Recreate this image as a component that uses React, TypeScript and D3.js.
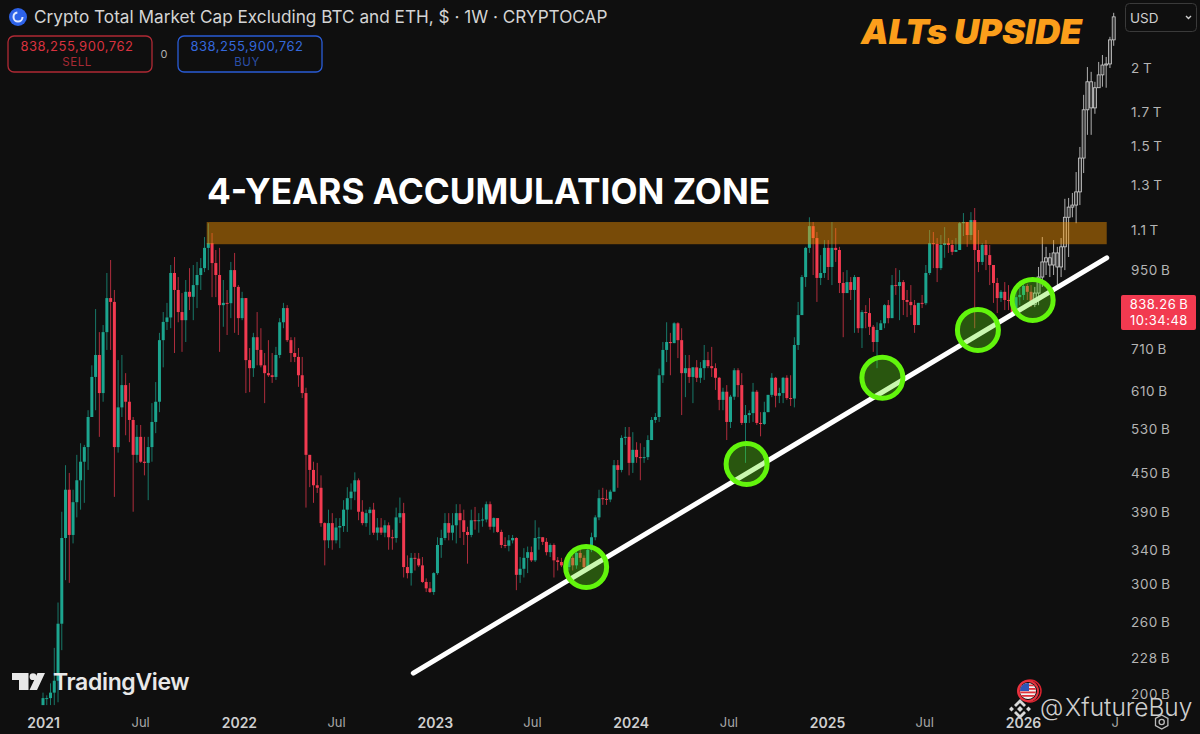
import * as d3 from "d3";
import { useEffect, useRef } from "react";

// weekly candles as [high, low, close] in billions, open is the previous close
const firstOpen = 192;
const candles2021 = [
	[201,192,197],[199,192,197],[208,192,201],[237,192,210],[280,194,259],[391,235,355],[464,304,424],[451,301,359],
	[424,348,405],[482,383,439],[503,394,470],[500,404,496],[568,456,554],[670,568,642],[824,568,696],[757,515,605],
	[777,586,757],[941,709,858],[987,709,846],[884,413,496],[683,486,574],[696,554,623],[651,518,586],[628,505,548],
	[554,391,482],[538,468,515],[538,468,470],[515,447,468],[515,408,496],[583,470,544],[630,522,586],[755,564,735],
	[815,665,786],[843,763,799],[969,768,941],[998,701,884],[927,785,815],[874,704,791],[917,730,878],[958,821,862],
	[969,791,900],[980,827,934],[994,884,958],[1074,944,1032],[1130,951,1050],[1090,861,976],[1024,861,934],[1032,704,836],
	[917,772,843],[884,749,842],[980,797,951],[1013,755,894],
];
const candles2022 = [
	[900,749,797],[878,791,858],[858,605,683],[714,607,663],[755,642,743],[815,670,709],[768,665,670],[701,583,651],
	[735,642,646],[701,628,642],[717,635,696],[797,688,785],[843,768,827],[836,730,735],[743,678,701],[743,678,691],
	[714,619,646],[691,594,605],[617,397,482],[482,428,456],[470,404,431],[468,419,427],[447,370,375],[376,321,352],
	[394,342,375],[389,340,352],[382,348,369],[382,342,371],[408,363,394],[428,363,411],[434,394,421],[452,408,439],
	[442,379,391],[408,372,375],[394,370,389],[398,359,394],[404,359,362],[382,352,369],[382,359,362],[379,356,372],
	[376,340,356],[366,340,355],[397,349,383],[412,375,389],[404,307,319],[333,306,312],[336,298,330],[336,315,329],
	[336,319,321],[331,301,302],[306,291,295],[302,290,291],
];
const candles2023 = [
	[313,288,312],[356,310,346],[366,330,355],[389,352,375],[389,352,362],[389,352,372],[402,348,389],[402,355,379],
	[394,346,363],[370,323,359],[394,356,379],[398,366,378],[389,362,379],[397,370,380],[406,376,402],[406,366,370],
	[383,362,382],[376,362,363],[366,342,346],[356,342,345],[359,338,352],[359,348,355],[356,293,310],[331,301,317],
	[342,307,330],[344,312,337],[344,325,327],[379,325,355],[369,340,356],[356,346,350],[355,333,337],[348,331,346],
	[348,307,327],[331,315,325],[330,319,321],[327,313,319],[337,315,330],[333,315,321],[342,317,336],[340,325,330],
	[333,313,319],[346,319,340],[362,337,356],[386,352,383],[424,379,411],[427,401,410],[424,401,409],[424,405,421],
	[473,421,464],[473,427,456],[518,452,513],[534,500,515],
];
const candles2024 = [
	[534,447,468],[524,451,491],[505,468,478],[503,439,477],[496,468,478],[518,473,509],[554,522,548],[562,542,554],
	[662,544,646],[730,628,709],[785,678,730],[755,646,727],[785,727,782],[785,688,735],[768,558,651],[696,596,663],
	[696,628,642],[666,583,665],[683,630,640],[678,628,663],[722,635,683],[704,663,668],[717,642,663],[675,612,640],
	[642,568,590],[617,568,608],[623,509,544],[601,532,597],[663,590,658],[663,596,623],[651,538,542],[579,468,558],
	[568,542,562],[628,544,608],[612,538,542],[564,516,540],[586,538,564],[601,564,601],[651,596,640],[642,574,599],
	[617,583,605],[642,583,640],[646,590,594],[646,577,593],[743,574,722],[846,709,806],[934,806,927],[1036,894,1032],
	[1155,1013,1118],[1135,934,1070],[1094,846,924],[1005,900,941],
];
const candles2025 = [
	[1062,924,1032],[1062,917,962],[1135,900,1032],[1110,980,1024],[1036,874,907],[944,743,874],[951,874,910],[927,852,884],
	[934,755,927],[927,755,768],[821,714,815],[836,768,812],[858,749,772],[777,704,730],[785,663,763],[791,763,782],
	[839,768,836],[852,782,797],[934,797,900],[958,868,897],[951,791,910],[917,806,852],[884,800,846],[900,806,836],
	[852,755,777],[843,777,843],[868,827,842],[969,836,941],[1102,934,1050],[1094,958,1047],[1070,910,958],[1082,951,1043],
	[1114,995,1050],[1070,1013,1043],[1062,1005,1017],[1070,1017,1024],[1135,1050,1130],[1173,1078,1135],[1135,1036,1082],[1177,1062,1143],
	[1195,768,1024],[1102,944,980],[1050,969,1043],[1062,951,1005],[1043,900,969],[969,843,907],[924,812,858],[884,846,878],
	[910,821,852],[900,821,849],[878,812,815],[884,821,861],
];
const candles2026 = [[890,836,868],[904,852,897],[904,852,878],[900,830,838.26]];
// the drawn "upside" path in white
const projected = [
	[894,830,874],[962,836,927],[1074,894,980],[1036,934,995],[1013,927,969],[1062,934,1013],[1036,900,962],[1070,927,1036],
	[1236,951,1155],[1240,998,1199],[1263,1155,1208],[1364,1130,1268],[1496,1208,1436],[1812,1359,1715],[2007,1564,1901],[1972,1564,1727],
	[1901,1690,1860],[2045,1860,1950],[2098,1867,2022],[2083,1860,2030],[2243,2000,2218],[2450,2170,2414],
];
const firstWeek = "2021-01-01";

const priceTicks = [2000, 1700, 1500, 1300, 1100, 950, 710, 610, 530, 450, 390, 340, 300, 260, 228, 200];
const timeTicks = ["2021-01-01", "2021-07-01", "2022-01-01", "2022-07-01", "2023-01-01", "2023-07-01", "2024-01-01", "2024-07-01", "2025-01-01", "2025-07-01", "2026-01-01", "2026-07-01"];

const zoneDates = ["2021-11-02", "2026-06-06"];
const zonePrices = [1135, 1046];
const trendDates = ["2022-11-22", "2026-06-06"];
const trendPrices = [216, 995];
const touchDates = ["2023-10-10", "2024-08-04", "2025-04-14", "2025-10-09", "2026-01-19"];
const touchPrices = [319, 466, 640, 763, 852];

const FONT = "Inter, 'Noto Sans', sans-serif";
const UP = "#1ca58f";
const DOWN = "#f23a50";
const DAY = 86400000;

export default function App() {
	const svgRef = useRef<SVGSVGElement>(null);

	useEffect(() => {
		const svg = d3.select(svgRef.current);
		if (!svg.node()) return;
		svg.selectAll("*").remove();

		const x = d3.scaleUtc().domain([new Date("2021-01-01"), new Date("2026-01-01")]).range([43, 1023]);
		const y = d3.scaleLog().domain([2000, 200]).range([68, 694]);
		const weekX = (i: number) => x(new Date(+new Date(firstWeek) + i * 7 * DAY));

		const defs = svg.append("defs");
		defs.append("clipPath").attr("id", "pane").append("rect").attr("width", 1119).attr("height", 734);
		defs.append("clipPath").attr("id", "flag").append("circle").attr("cx", 1028).attr("cy", 691).attr("r", 8);

		svg.append("rect").attr("width", 1200).attr("height", 734).attr("fill", "#0f0f0f");

		const pane = svg.append("g").attr("clip-path", "url(#pane)");

		// real candles
		const real = [...candles2021, ...candles2022, ...candles2023, ...candles2024, ...candles2025, ...candles2026];
		let prev = firstOpen;
		real.forEach(([high, low, close], i) => {
			const open = prev;
			prev = close;
			const col = close >= open ? UP : DOWN;
			const cx = weekX(i);
			pane.append("line").attr("x1", cx).attr("x2", cx).attr("y1", y(high)).attr("y2", y(low))
				.attr("stroke", col).attr("stroke-width", 1).attr("opacity", 0.7);
			const top = y(Math.max(open, close));
			const h = Math.max(1, y(Math.min(open, close)) - top);
			pane.append("rect").attr("x", cx - 1.5).attr("y", top).attr("width", 3).attr("height", h).attr("fill", col);
		});

		// projected candles
		projected.forEach(([high, low, close], i) => {
			const open = prev;
			prev = close;
			const cx = weekX(real.length + i);
			pane.append("line").attr("x1", cx).attr("x2", cx).attr("y1", y(high)).attr("y2", y(low))
				.attr("stroke", "#b0b0b0").attr("stroke-width", 1);
			const top = y(Math.max(open, close));
			const h = Math.max(1, y(Math.min(open, close)) - top);
			pane.append("rect").attr("x", cx - 1.5).attr("y", top).attr("width", 3).attr("height", h)
				.attr("fill", "#3a3a3a").attr("stroke", "#d0d0d0").attr("stroke-width", 0.8);
		});

		// accumulation zone
		svg.append("rect")
			.attr("x", x(new Date(zoneDates[0])))
			.attr("y", y(zonePrices[0]))
			.attr("width", x(new Date(zoneDates[1])) - x(new Date(zoneDates[0])))
			.attr("height", y(zonePrices[1]) - y(zonePrices[0]))
			.attr("fill", "#ff9800")
			.attr("opacity", 0.44);

		// rising trend line
		const trend = d3.line<number>().x((_, i) => x(new Date(trendDates[i]))).y((p) => y(p));
		svg.append("path")
			.attr("d", trend(trendPrices))
			.attr("fill", "none")
			.attr("stroke", "#ffffff")
			.attr("stroke-width", 5)
			.attr("stroke-linecap", "round");

		// touch points
		touchDates.forEach((d, i) => {
			svg.append("circle")
				.attr("cx", x(new Date(d)))
				.attr("cy", y(touchPrices[i]))
				.attr("r", 20.5)
				.attr("fill", "#5ee80f")
				.attr("fill-opacity", 0.33);
			svg.append("circle")
				.attr("cx", x(new Date(d)))
				.attr("cy", y(touchPrices[i]))
				.attr("r", 20.5)
				.attr("fill", "none")
				.attr("stroke", "#62f50c")
				.attr("stroke-width", 5);
		});

		// price axis
		const yAxis = d3.axisRight(y)
			.tickValues(priceTicks)
			.tickSize(0)
			.tickPadding(0)
			.tickFormat((v) => (+v >= 1000 ? `${+v / 1000}\u2009T` : `${v}\u2009B`));
		const yg = svg.append("g").attr("transform", "translate(1131,0)").call(yAxis);
		yg.select(".domain").remove();
		yg.selectAll("text").attr("fill", "#b4b4b4").style("font-family", FONT).style("font-size", "13.5px").style("letter-spacing", "0.6px");

		// time axis
		const xAxis = d3.axisBottom(x)
			.tickValues(timeTicks.map((d) => new Date(d)))
			.tickSize(0)
			.tickPadding(0)
			.tickFormat((d) => ((d as Date).getUTCMonth() === 0 ? String((d as Date).getUTCFullYear()) : "Jul"));
		const xg = pane.append("g").attr("transform", "translate(0,718)").call(xAxis);
		xg.select(".domain").remove();
		xg.selectAll("text")
			.attr("fill", (d) => ((d as Date).getUTCMonth() === 0 ? "#cfcfcf" : "#a8a8a8"))
			.style("font-family", FONT)
			.style("font-size", (d) => ((d as Date).getUTCMonth() === 0 ? "14px" : "13px"))
			.style("font-weight", (d) => ((d as Date).getUTCMonth() === 0 ? "600" : "400"));

		// header
		svg.append("circle").attr("cx", 18).attr("cy", 17).attr("r", 9).attr("fill", "#2d62e8");
		svg.append("circle").attr("cx", 18).attr("cy", 17).attr("r", 4.5).attr("fill", "none").attr("stroke", "#dfe8ff").attr("stroke-width", 2).attr("stroke-dasharray", "20 8");
		svg.append("text").attr("x", 34).attr("y", 23).attr("fill", "#d4d4d4")
			.style("font-family", FONT).style("font-size", "17.2px")
			.text("Crypto Total Market Cap Excluding BTC and ETH, $ · 1W · CRYPTOCAP");

		const box = (bx: number, stroke: string, fg: string, fg2: string, label: string) => {
			svg.append("rect").attr("x", bx).attr("y", 36).attr("width", 144).attr("height", 36).attr("rx", 6)
				.attr("fill", "none").attr("stroke", stroke).attr("stroke-width", 1.3);
			svg.append("text").attr("x", bx + 69).attr("y", 51).attr("text-anchor", "middle").attr("fill", fg)
				.style("font-family", FONT).style("font-size", "13px").style("letter-spacing", "0.5px").text("838,255,900,762");
			svg.append("text").attr("x", bx + 69).attr("y", 66).attr("text-anchor", "middle").attr("fill", fg2)
				.style("font-family", FONT).style("font-size", "11.5px").style("letter-spacing", "0.5px").text(label);
		};
		box(8, "#b02a35", "#d8323f", "#a82a35", "SELL");
		box(178, "#2a5cd6", "#3468dc", "#2c50a8", "BUY");
		svg.append("text").attr("x", 164).attr("y", 58).attr("text-anchor", "middle").attr("fill", "#b0b0b0")
			.style("font-family", FONT).style("font-size", "11px").text("0");

		// currency button
		svg.append("rect").attr("x", 1125.5).attr("y", 3.5).attr("width", 71).attr("height", 28).attr("rx", 4)
			.attr("fill", "none").attr("stroke", "#3a3a3a");
		svg.append("text").attr("x", 1130).attr("y", 23).attr("fill", "#cfcfcf")
			.style("font-family", FONT).style("font-size", "13.5px").text("USD");
		svg.append("path").attr("d", "M1186 16l2.5 2.5 2.5-2.5").attr("fill", "none").attr("stroke", "#cfcfcf").attr("stroke-width", 1.4);

		// live price tag
		svg.append("rect").attr("x", 1121).attr("y", 295).attr("width", 75).attr("height", 35).attr("rx", 2).attr("fill", "#f23a50");
		svg.append("text").attr("x", 1159).attr("y", 309).attr("text-anchor", "middle").attr("fill", "#ffffff")
			.style("font-family", FONT).style("font-size", "13px").style("letter-spacing", "0.5px").text("838.26\u2009B");
		svg.append("text").attr("x", 1159).attr("y", 325).attr("text-anchor", "middle").attr("fill", "#ffffff")
			.style("font-family", FONT).style("font-size", "13px").style("letter-spacing", "0.5px").text("10:34:48");

		// annotations
		svg.append("text").attr("x", 861).attr("y", 44).attr("fill", "#fb9e1b")
			.style("font-family", FONT).style("font-size", "34.8px").style("font-weight", "900").style("font-style", "italic")
			.text("ALTs UPSIDE");
		svg.append("text").attr("x", 207).attr("y", 204).attr("fill", "#ffffff")
			.style("font-family", FONT).style("font-size", "35.2px").style("font-weight", "700")
			.text("4-YEARS ACCUMULATION ZONE");

		// TradingView mark
		svg.append("path").attr("d", "M12 673H28.5V690H19V680H12Z M37.5 673H45L37 690H29.5Z").attr("fill", "#e8e8e8");
		svg.append("circle").attr("cx", 33).attr("cy", 676.7).attr("r", 3.4).attr("fill", "#e8e8e8");
		svg.append("text").attr("x", 53).attr("y", 690).attr("fill", "#e8e8e8")
			.style("font-family", FONT).style("font-size", "23px").style("font-weight", "600").style("letter-spacing", "-0.35px")
			.text("TradingView");

		// watermark, flag and exchange mark
		svg.append("circle").attr("cx", 1030).attr("cy", 691).attr("r", 11).attr("fill", "none").attr("stroke", "#d8232f").attr("stroke-width", 1.5);
		svg.append("circle").attr("cx", 1028).attr("cy", 691).attr("r", 10).attr("fill", "none").attr("stroke", "#e8323f").attr("stroke-width", 2);
		const flag = svg.append("g").attr("clip-path", "url(#flag)");
		flag.append("rect").attr("x", 1020).attr("y", 683).attr("width", 16).attr("height", 16).attr("fill", "#f2f2f2");
		[684.5, 688, 691.5, 695].forEach((sy) => {
			flag.append("rect").attr("x", 1020).attr("y", sy).attr("width", 16).attr("height", 1.8).attr("fill", "#e0323c");
		});
		flag.append("rect").attr("x", 1020).attr("y", 683).attr("width", 9).attr("height", 8).attr("fill", "#2c55b8");
		svg.append("path")
			.attr("d", "M1020 699l6 6-2 2-4-4-4 4-2-2z M1020 719l6-6-2-2-4 4-4-4-2 2z M1020 706l3 3-3 3-3-3z M1011.5 706.5l2.5 2.5-2.5 2.5-2.5-2.5z M1028.5 706.5l2.5 2.5-2.5 2.5-2.5-2.5z")
			.attr("fill", "#d8d8d8");
		svg.append("text").attr("x", 1040).attr("y", 716).attr("fill", "#cfcfcf")
			.style("font-family", FONT).style("font-size", "24px").style("font-weight", "300")
			.text("@");
		svg.append("text").attr("x", 1065).attr("y", 716).attr("fill", "#cfcfcf")
			.style("font-family", FONT).style("font-size", "24.5px").style("font-weight", "300")
			.text("XfutureBuy");
		svg.append("path").attr("d", "M1161.7 715l6.2 3.5v7l-6.2 3.5-6.2-3.5v-7z").attr("fill", "none").attr("stroke", "#bdbdbd").attr("stroke-width", 1.3);
		svg.append("circle").attr("cx", 1161.7).attr("cy", 722).attr("r", 2.6).attr("fill", "none").attr("stroke", "#bdbdbd").attr("stroke-width", 1.3);
	}, []);

	return (
		<div style={{ position: "absolute", left: 0, top: 0 }}>
			<svg ref={svgRef} width={1200} height={734} style={{ display: "block" }} />
		</div>
	);
}
